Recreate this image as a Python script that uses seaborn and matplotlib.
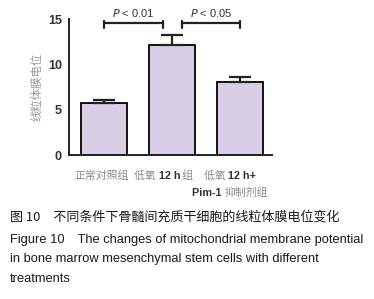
import matplotlib
matplotlib.use("Agg")
import matplotlib.pyplot as plt
import seaborn as sns
import pandas as pd
import numpy as np

groups = ["正常对照组", "低氧12h组", "低氧12h+Pim-1抑制剂组"]
means = [5.7, 12.1, 8.1]
sems = [0.35, 1.1, 0.5]
yticks = [0, 5, 10, 15]
ylabel = "线粒体膜电位"
# label pieces: (text, color, bold)
label_lines = [
    [[("正常对照组", "#8a8a8a", False)]],
    [[("低氧 ", "#8a8a8a", False), ("12 h", "#333333", True), (" 组", "#8a8a8a", False)]],
    [[("低氧 ", "#8a8a8a", False), ("12 h+", "#333333", True)],
     [("Pim-1 ", "#333333", True), ("抑制剂组", "#8a8a8a", False)]],
]
label_x = [-0.04, 0.88, 1.85]
brackets = [(0, 0.87, 14.6, "P < 0.01"), (1.15, 2.0, 14.6, "P < 0.05")]
caption = [
    "图 10　不同条件下骨髓间充质干细胞的线粒体膜电位变化",
    "Figure 10　The changes of mitochondrial membrane potential",
    "in bone marrow mesenchymal stem cells with different",
    "treatments",
]

sns.set_theme(style="white")
plt.rcParams["font.family"] = ["Liberation Sans", "Noto Sans CJK SC", "DejaVu Sans"]

df = pd.DataFrame({"group": groups, "value": means})
fig = plt.figure(figsize=(3.74, 2.99), dpi=100)
ax = fig.add_axes([69/374, 1-155/299, (272-69)/374, (155-19)/299])
sns.barplot(data=df, x="group", y="value", ax=ax, color="#D8CEE6",
            edgecolor="black", linewidth=1.3, width=0.69, errorbar=None, saturation=1)
ax.errorbar(range(len(means)), means, yerr=[np.zeros(len(sems)), sems], fmt="none",
            ecolor="#222222", elinewidth=1.6, capsize=8, capthick=1.6, zorder=1)
ax.set_xlim(-0.515, 2.47)
ax.set_ylim(0, 15)
ax.set_yticks(yticks)
ax.set_yticklabels([str(t) for t in yticks], fontsize=9.2, color="#333333", fontweight="bold")
ax.set_xticks(range(len(groups)))
ax.set_xticklabels(["", "", ""])
ax.tick_params(axis="y", direction="out", length=4, width=1.2, color="#222222", pad=1)
ax.tick_params(axis="x", direction="out", length=4, width=1.2, color="#222222")
for s in ["top", "right"]:
    ax.spines[s].set_visible(False)
for s in ["left", "bottom"]:
    ax.spines[s].set_color("#222222")
    ax.spines[s].set_linewidth(1.4)
ax.set_xlabel("")
ax.set_ylabel(ylabel, fontsize=8.2, color="#999999", family=["Noto Sans CJK SC"], labelpad=4)

trans = matplotlib.transforms.blended_transform_factory(ax.transData, fig.transFigure)

def draw_pieces(x, yfig, pieces):
    renderer = fig.canvas.get_renderer()
    texts = []
    prev = None
    for txt, col, bold in pieces:
        fam = ["Liberation Sans"] if bold else ["Noto Sans CJK SC"]
        kw = dict(fontsize=7.8, color=col, fontweight="bold" if bold else "normal", family=fam,
                  va="baseline", ha="left")
        if prev is None:
            t = ax.text(x, yfig, txt, transform=trans, **kw)
        else:
            t = ax.annotate(txt, xy=(1, 0), xycoords=prev, textcoords="offset points",
                            xytext=(0, 0), **kw)
            t.set_va("bottom")
        texts.append(t)
        prev = t
    fig.canvas.draw()
    total = texts[-1].get_window_extent(renderer).x1 - texts[0].get_window_extent(renderer).x0
    x0_disp = ax.transData.transform((x, 0))[0] - total / 2
    xdata = ax.transData.inverted().transform((x0_disp, 0))[0]
    texts[0].set_x(xdata)

for i, lines in enumerate(label_lines):
    for j, pieces in enumerate(lines):
        yfig = 1 - (179 + j * 17) / 299
        draw_pieces(label_x[i], yfig, pieces)

for x1, x2, y, txt in brackets:
    ax.plot([x1, x2], [y, y], color="#222222", lw=1.6, clip_on=False)
    for xx in (x1, x2):
        ax.plot([xx, xx], [y + 0.15, y - 0.55], color="#222222", lw=1.6, clip_on=False)
    ax.text((x1 + x2) / 2, y + 0.45, r"$\it{P}$" + txt[1:], ha="center", va="bottom",
            fontsize=8, color="#333333", clip_on=False)

ys = [217, 240, 259, 279]
for k, line in enumerate(caption):
    fig.text(10/374, 1 - ys[k]/299, line, fontsize=9.4 if k == 0 else 9.3, color="#1a1a1a",
             va="center", ha="left",
             family=["Noto Sans CJK SC"] if k == 0 else ["Liberation Sans", "Noto Sans CJK SC"])

fig.savefig("out.png", dpi=100)
